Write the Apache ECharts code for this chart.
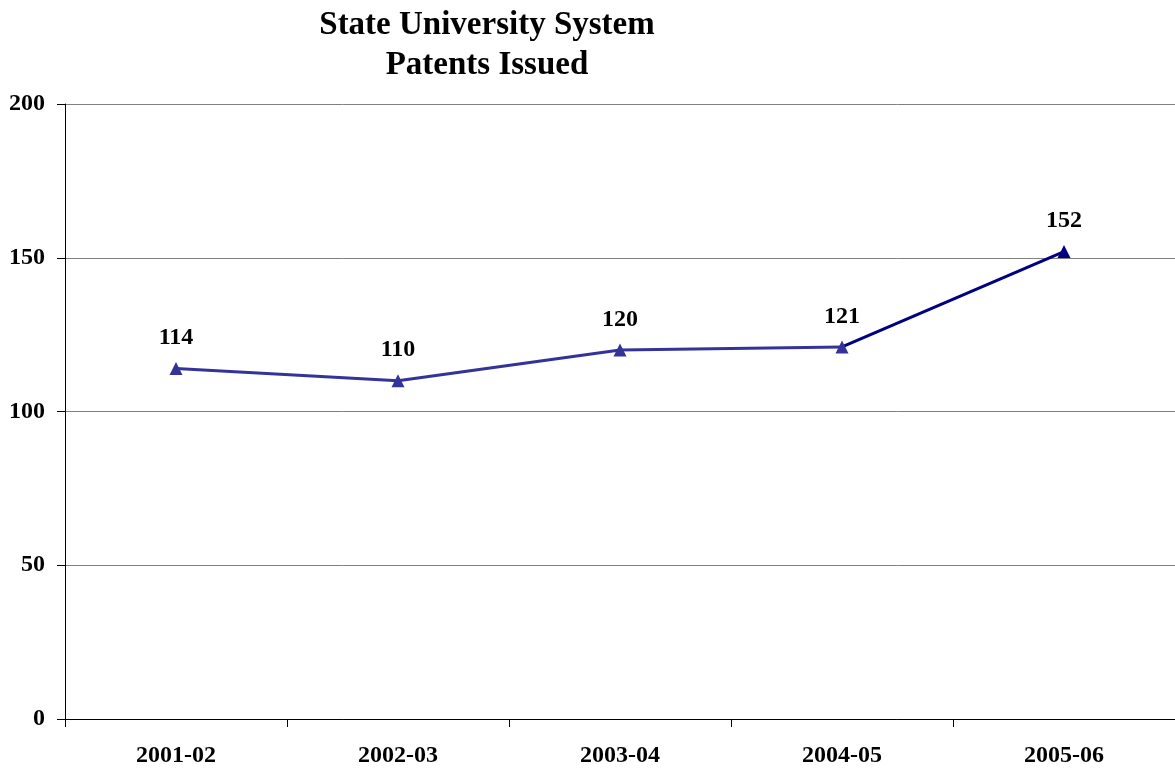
<!DOCTYPE html>
<html>
<head>
<meta charset="utf-8">
<script src="https://cdn.jsdelivr.net/npm/echarts@6/dist/echarts.min.js"></script>
<style>
html,body{margin:0;padding:0;background:#fff;}
#chart{width:1175px;height:770px;}
</style>
</head>
<body>
<div id="chart"></div>
<script>
const titleText = "State University System\nPatents Issued";
const categories = ["2001-02", "2002-03", "2003-04", "2004-05", "2005-06"];
const patents = [114, 110, 120, 121, 152];
const yTicks = { min: 0, max: 200, interval: 50 };

const FONT = '"Liberation Serif", "DejaVu Serif", serif';
const lastIdx = patents.length - 1;
const mainData = patents.map((v, i) => i < lastIdx ? v : null);
const tailData = patents.map((v, i) => {
  if (i === lastIdx) return v;
  if (i === lastIdx - 1) return { value: v, symbol: 'none', label: { show: false } };
  return null;
});

const chart = echarts.init(document.getElementById('chart'));
chart.setOption({
  animation: false,
  backgroundColor: '#ffffff',
  title: {
    text: titleText,
    left: 482,
    textAlign: 'center',
    top: 0,
    textStyle: { fontFamily: FONT, fontWeight: 'bold', fontSize: 33, lineHeight: 40, color: '#000' }
  },
  grid: { left: 65, right: 0, top: 104, bottom: 51, containLabel: false },
  xAxis: {
    type: 'category',
    data: categories,
    boundaryGap: true,
    axisLine: { lineStyle: { color: '#000', width: 1 } },
    axisTick: { show: true, alignWithLabel: false, length: 8, inside: false, lineStyle: { color: '#000' } },
    axisLabel: { fontFamily: FONT, fontWeight: 'bold', fontSize: 24, color: '#000', margin: 25 },
    splitLine: { show: false }
  },
  yAxis: {
    type: 'value',
    min: yTicks.min, max: yTicks.max, interval: yTicks.interval,
    axisLine: { show: true, lineStyle: { color: '#000', width: 1 } },
    axisTick: { show: true, length: 8, lineStyle: { color: '#000' } },
    axisLabel: { fontFamily: FONT, fontWeight: 'bold', fontSize: 24, color: '#000', margin: 20 },
    splitLine: { show: true, lineStyle: { color: '#808080', width: 1 } }
  },
  series: [
    {
      type: 'line',
      data: mainData,
      connectNulls: false,
      symbol: 'triangle',
      symbolSize: 13,
      lineStyle: { color: '#333399', width: 3 },
      itemStyle: { color: '#333399' },
      label: { show: true, position: 'top', distance: 12, fontFamily: FONT, fontWeight: 'bold', fontSize: 24, color: '#000' },
      z: 3
    },
    {
      type: 'line',
      data: tailData,
      connectNulls: false,
      symbol: 'triangle',
      symbolSize: 13,
      lineStyle: { color: '#000080', width: 3 },
      itemStyle: { color: '#000080' },
      label: { show: true, position: 'top', distance: 12, fontFamily: FONT, fontWeight: 'bold', fontSize: 24, color: '#000' },
      z: 2
    }
  ]
});
</script>
</body>
</html>
